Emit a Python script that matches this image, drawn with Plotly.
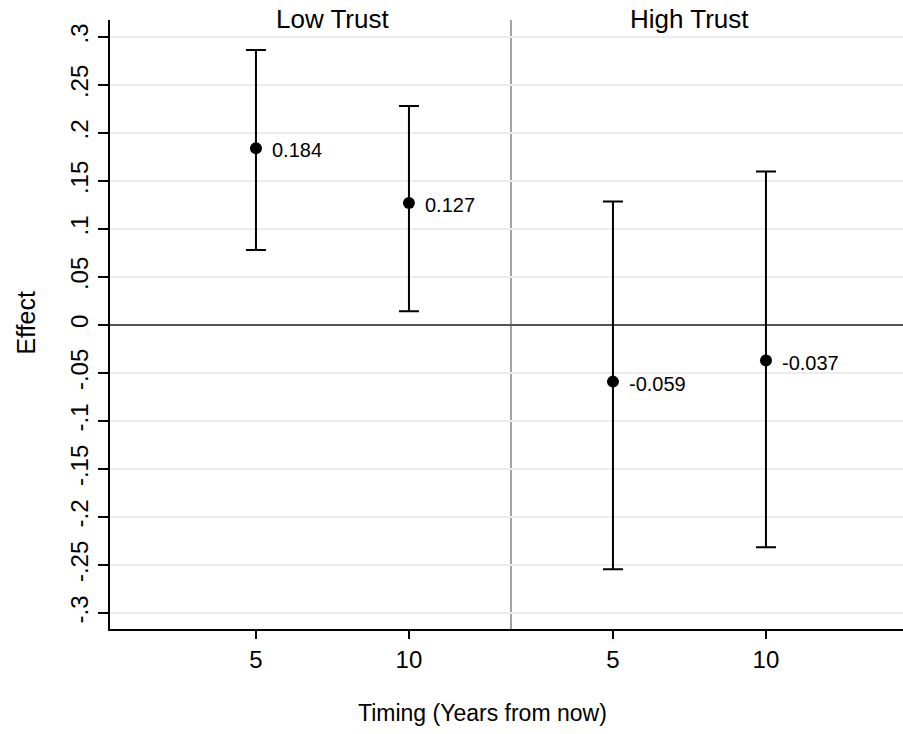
import plotly.graph_objects as go

# ---- data ----
groups = ["Low Trust", "High Trust"]
timing_labels = ["5", "10", "5", "10"]
x_slots = [1, 2, 10 / 3, 13 / 3]
effect = [0.184, 0.127, -0.059, -0.037]
ci_upper = [0.2865, 0.228, 0.1285, 0.160]
ci_lower = [0.078, 0.0142, -0.2545, -0.2316]
y_ticks = [0.3, 0.25, 0.2, 0.15, 0.1, 0.05, 0, -0.05, -0.1, -0.15, -0.2, -0.25, -0.3]
y_tick_labels = [".3", ".25", ".2", ".15", ".1", ".05", "0",
                 "-.05", "-.1", "-.15", "-.2", "-.25", "-.3"]
group_centers = [1.5, 23 / 6]
separator_x = 8 / 3

FONT = "Liberation Sans, Arial, Helvetica, sans-serif"

err_plus = [u - e for u, e in zip(ci_upper, effect)]
err_minus = [e - l for e, l in zip(effect, ci_lower)]

fig = go.Figure()
fig.add_trace(go.Scatter(
    x=x_slots, y=effect, mode="markers",
    marker=dict(color="black", size=12),
    error_y=dict(type="data", symmetric=False, array=err_plus, arrayminus=err_minus,
                 color="black", thickness=2, width=10),
    showlegend=False, hoverinfo="skip",
))

annotations = []
for x, v in zip(x_slots, effect):
    annotations.append(dict(x=x, y=v, xref="x", yref="y", text=f"{v:.3f}",
                            showarrow=False, xanchor="left", yanchor="middle",
                            xshift=14, yshift=-2,
                            font=dict(family=FONT, size=20, color="black")))
for g, cx in zip(groups, group_centers):
    annotations.append(dict(x=cx, y=1, xref="x", yref="paper", text=g,
                            showarrow=False, xanchor="center", yanchor="middle",
                            yshift=1, font=dict(family=FONT, size=26, color="black")))
annotations.append(dict(x=-0.106, y=0.503, xref="paper", yref="paper", text="Effect",
                        textangle=-90, showarrow=False, xanchor="center", yanchor="middle",
                        font=dict(family=FONT, size=25, color="black")))
annotations.append(dict(x=0.470, y=-0.138, xref="paper", yref="paper",
                        text="Timing (Years from now)",
                        showarrow=False, xanchor="center", yanchor="middle",
                        font=dict(family=FONT, size=23, color="black")))

fig.update_layout(
    width=903, height=734,
    margin=dict(l=110, r=0, t=20, b=105),
    paper_bgcolor="white", plot_bgcolor="white",
    font=dict(family=FONT, color="black"),
    annotations=annotations,
    shapes=[dict(type="line", xref="x", yref="paper", x0=separator_x, x1=separator_x,
                 y0=0, y1=1, line=dict(color="#a0a0a0", width=2), layer="below")],
    xaxis=dict(range=[0.046, 5.229], tickvals=x_slots, ticktext=timing_labels,
               showgrid=False, zeroline=False, showline=True, linecolor="black",
               linewidth=2, ticks="outside", ticklen=8, tickwidth=1.5, tickcolor="black",
               tickfont=dict(family=FONT, size=24, color="black")),
    yaxis=dict(range=[-0.3167, 0.3177], tickvals=y_ticks, ticktext=y_tick_labels,
               tickangle=-90, showgrid=True, gridcolor="#ececec", gridwidth=1.5,
               zeroline=True, zerolinecolor="#555555", zerolinewidth=2,
               showline=True, linecolor="black", linewidth=2,
               ticks="outside", ticklen=10, tickwidth=1.5, tickcolor="black",
               tickfont=dict(family=FONT, size=24, color="black")),
)

fig.write_html("out.html", config={"displayModeBar": False},
               post_script="document.body.style.margin='0';")
